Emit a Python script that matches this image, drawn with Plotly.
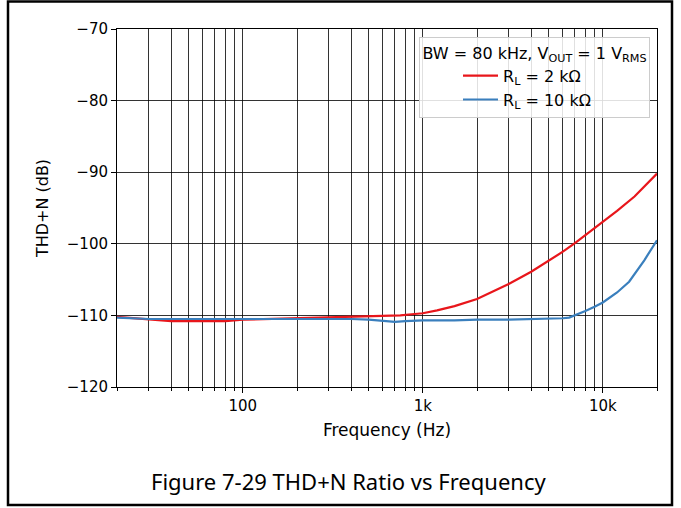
import math
import plotly.graph_objects as go

# ---- data ----
freq_2k = [20, 25, 30, 40, 50, 60, 80, 100, 150, 200, 300, 400, 500, 600, 750, 900,
           1000, 1200, 1500, 2000, 2500, 3000, 4000, 5000, 6000, 7000, 8000, 10000,
           12000, 15000, 17000, 20000]
thdn_2k = [-110.2, -110.4, -110.6, -110.8, -110.8, -110.8, -110.8, -110.6, -110.5, -110.4,
           -110.3, -110.2, -110.2, -110.1, -110.0, -109.8, -109.7, -109.3, -108.7, -107.7,
           -106.6, -105.6, -103.9, -102.4, -101.1, -99.9, -98.8, -97.0, -95.4, -93.4,
           -92.0, -90.2]

freq_10k = [20, 30, 50, 100, 150, 200, 300, 400, 500, 600, 700, 800, 1000, 1500, 2000,
            3000, 4000, 5000, 6000, 6500, 7000, 8000, 9000, 10000, 12000, 14000, 17000, 20000]
thdn_10k = [-110.3, -110.5, -110.5, -110.5, -110.4, -110.5, -110.5, -110.5, -110.6, -110.8,
            -110.9, -110.8, -110.7, -110.7, -110.6, -110.6, -110.5, -110.5, -110.4, -110.3,
            -110.0, -109.4, -108.8, -108.2, -106.8, -105.3, -102.3, -99.5]

series_names = ["R<sub>L</sub> = 2 kΩ", "R<sub>L</sub> = 10 kΩ"]
legend_title = "BW = 80 kHz, V<sub>OUT</sub> = 1 V<sub>RMS</sub>"

x_major = [100, 1000, 10000]
x_major_labels = ["100", "1k", "10k"]
x_minor = [20, 30, 40, 50, 60, 70, 80, 90,
           200, 300, 400, 500, 600, 700, 800, 900,
           2000, 3000, 4000, 5000, 6000, 7000, 8000, 9000, 20000]
y_ticks = [-120, -110, -100, -90, -80, -70]
y_labels = ["−120", "−110", "−100", "−90", "−80", "−70"]
x_range = [20, 20000]
y_range = [-120, -70]

caption = "Figure 7-29 THD+N Ratio vs Frequency"

# ---- figure ----
fig = go.Figure()
fig.add_trace(go.Scatter(x=freq_2k, y=thdn_2k, mode="lines", name=series_names[0],
                         line=dict(color="#e8161b", width=2.2)))
fig.add_trace(go.Scatter(x=freq_10k, y=thdn_10k, mode="lines", name=series_names[1],
                         line=dict(color="#3a7fbd", width=2.2)))

grid_col = "rgba(0,0,0,0.8)"
font_main = "DejaVu Sans"

fig.update_xaxes(
    type="log", range=[math.log10(x_range[0]), math.log10(x_range[1])],
    tickmode="array", tickvals=x_major, ticktext=x_major_labels,
    ticks="outside", ticklen=5, tickcolor="black", tickwidth=1,
    showgrid=True, gridcolor=grid_col, gridwidth=1,
    minor=dict(tickmode="array", tickvals=x_minor, ticks="outside", ticklen=3,
               tickcolor="black", showgrid=True, gridcolor=grid_col, gridwidth=1),
    showline=True, mirror=True, linecolor="black", linewidth=1,
    zeroline=False,
    tickfont=dict(family=font_main, size=15, color="black"),
    title=dict(text="Frequency (Hz)", font=dict(family=font_main, size=17, color="black"),
               standoff=10),
)
fig.update_yaxes(
    range=y_range, tickmode="array", tickvals=y_ticks, ticktext=y_labels,
    ticks="outside", ticklen=5, tickcolor="black", tickwidth=1,
    showgrid=True, gridcolor=grid_col, gridwidth=1,
    showline=True, mirror=True, linecolor="black", linewidth=1,
    zeroline=False,
    tickfont=dict(family=font_main, size=15, color="black"),
    title=dict(text="THD+N (dB)", font=dict(family=font_main, size=16, color="black"),
               standoff=14),
)

W, H = 681, 508
L, R, T, B = 117, 24, 29, 121
pw, ph = W - L - R, H - T - B

def px_to_paper_x(px):
    return (px - L) / pw

def px_to_paper_y(py):
    return (H - B - py) / ph

fig.update_layout(
    width=W, height=H,
    margin=dict(l=L, r=R, t=T, b=B, autoexpand=False),
    paper_bgcolor="white", plot_bgcolor="white",
    showlegend=True,
    legend=dict(
        title=dict(text=legend_title, side="top center",
                   font=dict(family=font_main, size=16, color="black")),
        font=dict(family=font_main, size=16, color="black"),
        x=px_to_paper_x(650), y=px_to_paper_y(37), xanchor="right", yanchor="top",
        bgcolor="rgba(255,255,255,0.85)", bordercolor="#cccccc", borderwidth=1,
        indentation=38, itemwidth=35, tracegroupgap=0,
    ),
    annotations=[dict(text=caption, xref="paper", yref="paper",
                      x=px_to_paper_x(348), y=px_to_paper_y(481),
                      xanchor="center", yanchor="middle", showarrow=False,
                      font=dict(family="Noto Sans", size=22, color="black"))],
    shapes=[dict(type="rect", xref="paper", yref="paper",
                 x0=px_to_paper_x(8), x1=px_to_paper_x(672),
                 y0=px_to_paper_y(505), y1=px_to_paper_y(1.5),
                 line=dict(color="black", width=2.5), fillcolor="rgba(0,0,0,0)",
                 layer="above")],
)

fig.write_html("out.html", config={"displayModeBar": False},
               post_script="document.body.style.margin='0';document.body.style.overflow='hidden';")
